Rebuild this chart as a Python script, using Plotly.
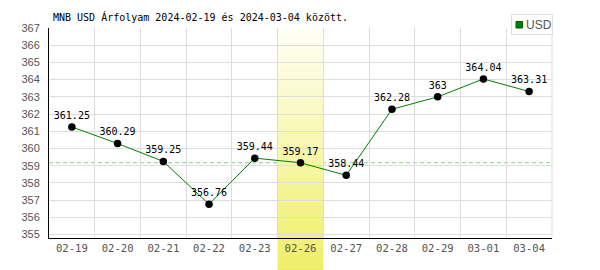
import plotly.graph_objects as go

dates = ["02-19", "02-20", "02-21", "02-22", "02-23", "02-26", "02-27",
         "02-28", "02-29", "03-01", "03-04"]
rates = [361.25, 360.29, 359.25, 356.76, 359.44, 359.17, 358.44,
         362.28, 363.00, 364.04, 363.31]
labels = ["361.25", "360.29", "359.25", "356.76", "359.44", "359.17", "358.44",
          "362.28", "363", "364.04", "363.31"]
highlight = "02-26"
y_ticks = list(range(355, 368))
title_text = "MNB USD Árfolyam 2024-02-19 és 2024-03-04 között."
series_name = "USD"

hi_idx = dates.index(highlight)
ref_value = rates[hi_idx]

W, H = 600, 270
ml, mr, mt, mb = 49, 48, 28, 31.5
plot_w = W - ml - mr
plot_h = H - mt - mb


def px_x(px):
    return (px - ml) / plot_w


def px_y(py):
    return (H - mb - py) / plot_h


fig = go.Figure()

fig.add_trace(go.Scatter(
    x=dates, y=rates, mode="lines+markers+text", name=series_name,
    text=labels, textposition="top center",
    textfont=dict(family="DejaVu Sans Mono", size=10, color="#000000"),
    line=dict(color="#008000", width=1),
    marker=dict(color="#000000", size=7.5),
    cliponaxis=False, showlegend=False, hoverinfo="x+y",
))

shapes = []
# reference dashed line at highlighted day's value
shapes.append(dict(type="line", xref="paper", yref="y", x0=0, x1=1,
                   y0=ref_value, y1=ref_value, layer="between",
                   line=dict(color="#80d080", width=1, dash="4px,3px")))
# gradient band for highlighted day
n = 60
top_c = (255, 255, 246)
bot_c = (240, 238, 100)
y_top = 1.0
y_bot = -(mb + 1) / plot_h
for i in range(n):
    f0 = i / n
    f1 = (i + 1) / n
    c = tuple(round(top_c[k] + (bot_c[k] - top_c[k]) * (f0 + f1) / 2) for k in range(3))
    shapes.append(dict(type="rect", xref="x", yref="paper",
                       x0=hi_idx - 0.5, x1=hi_idx + 0.5,
                       y0=y_top + (y_bot - y_top) * f1 - 0.002,
                       y1=y_top + (y_bot - y_top) * f0,
                       layer="between", line=dict(width=0),
                       fillcolor="rgb(%d,%d,%d)" % c))
# right border line
shapes.append(dict(type="line", xref="paper", yref="paper", x0=1, x1=1,
                   y0=0, y1=1, layer="below", line=dict(color="#dddddd", width=1)))
# legend box
shapes.append(dict(type="rect", xref="paper", yref="paper",
                   x0=px_x(511.5), x1=px_x(552.5), y0=px_y(34.5), y1=px_y(14.5),
                   layer="above", fillcolor="white",
                   line=dict(color="#dddddd", width=1)))
shapes.append(dict(type="rect", xref="paper", yref="paper",
                   x0=px_x(516), x1=px_x(522.5), y0=px_y(28), y1=px_y(21.5),
                   layer="above", fillcolor="#008000",
                   line=dict(color="#005a00", width=1)))

annotations = [dict(text=series_name, xref="paper", yref="paper",
                    x=px_x(523.5), y=px_y(24.8), xanchor="left", yanchor="middle",
                    showarrow=False,
                    font=dict(family="Liberation Sans", size=12, color="#555555"))]

fig.update_layout(
    width=W, height=H,
    margin=dict(l=ml, r=mr, t=mt, b=mb),
    paper_bgcolor="white", plot_bgcolor="white",
    title=dict(text=title_text, x=0, xref="paper", xanchor="left",
               y=1 - 17 / H, yref="container", yanchor="middle",
               pad=dict(l=4),
               font=dict(family="DejaVu Sans Mono", size=10, color="#000000")),
    xaxis=dict(type="category", categoryorder="array", categoryarray=dates,
               range=[-0.5, len(dates) - 0.5], tickson="boundaries",
               showgrid=True, gridcolor="#dddddd", gridwidth=1,
               showline=True, linecolor="#000000", linewidth=1,
               ticks="", zeroline=False,
               tickfont=dict(family="DejaVu Sans Mono", size=10.6, color="#555555")),
    yaxis=dict(range=[354.8, 367], tickvals=y_ticks,
               ticktext=[str(v) for v in y_ticks],
               showgrid=True, gridcolor="#dddddd", gridwidth=1,
               showline=True, linecolor="#000000", linewidth=1,
               ticks="", zeroline=False, ticklabelstandoff=6,
               tickfont=dict(family="Liberation Sans", size=11, color="#555555")),
    showlegend=False,
    shapes=shapes,
    annotations=annotations,
    hovermode="closest",
)

fig.write_html("out.html")
